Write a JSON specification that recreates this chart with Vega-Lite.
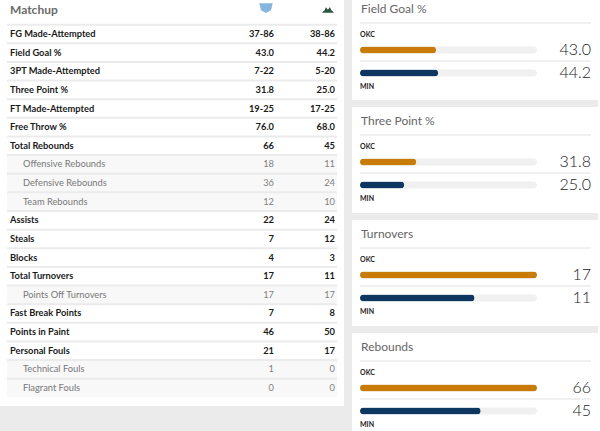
{
  "$schema": "https://vega.github.io/schema/vega-lite/v6.json",
  "background": "#ebebeb",
  "padding": 0,
  "spacing": 8,
  "datasets": {
    "table": [
      {"label": "FG Made-Attempted", "okc": "37-86", "min": "38-86", "level": "main"},
      {"label": "Field Goal %", "okc": "43.0", "min": "44.2", "level": "main"},
      {"label": "3PT Made-Attempted", "okc": "7-22", "min": "5-20", "level": "main"},
      {"label": "Three Point %", "okc": "31.8", "min": "25.0", "level": "main"},
      {"label": "FT Made-Attempted", "okc": "19-25", "min": "17-25", "level": "main"},
      {"label": "Free Throw %", "okc": "76.0", "min": "68.0", "level": "main"},
      {"label": "Total Rebounds", "okc": "66", "min": "45", "level": "main"},
      {"label": "Offensive Rebounds", "okc": "18", "min": "11", "level": "sub"},
      {"label": "Defensive Rebounds", "okc": "36", "min": "24", "level": "sub"},
      {"label": "Team Rebounds", "okc": "12", "min": "10", "level": "sub"},
      {"label": "Assists", "okc": "22", "min": "24", "level": "main"},
      {"label": "Steals", "okc": "7", "min": "12", "level": "main"},
      {"label": "Blocks", "okc": "4", "min": "3", "level": "main"},
      {"label": "Total Turnovers", "okc": "17", "min": "11", "level": "main"},
      {"label": "Points Off Turnovers", "okc": "17", "min": "17", "level": "sub"},
      {"label": "Fast Break Points", "okc": "7", "min": "8", "level": "main"},
      {"label": "Points in Paint", "okc": "46", "min": "50", "level": "main"},
      {"label": "Personal Fouls", "okc": "21", "min": "17", "level": "main"},
      {"label": "Technical Fouls", "okc": "1", "min": "0", "level": "sub"},
      {"label": "Flagrant Fouls", "okc": "0", "min": "0", "level": "sub"}
    ],
    "cards": [
      {"stat": "Field Goal %", "team": "OKC", "value": 43.0},
      {"stat": "Field Goal %", "team": "MIN", "value": 44.2},
      {"stat": "Three Point %", "team": "OKC", "value": 31.8},
      {"stat": "Three Point %", "team": "MIN", "value": 25.0},
      {"stat": "Turnovers", "team": "OKC", "value": 17},
      {"stat": "Turnovers", "team": "MIN", "value": 11},
      {"stat": "Rebounds", "team": "OKC", "value": 66},
      {"stat": "Rebounds", "team": "MIN", "value": 45}
    ],
    "logos": [
      {"team": "okc"},
      {"team": "min"}
    ]
  },
  "config": {
    "font": "Lato",
    "view": {"fill": "white", "stroke": null}
  },
  "hconcat": [
    {
      "width": 344,
      "height": 406,
      "view": {"fill": "white", "stroke": null},
      "layer": [
        {
          "data": {"name": "table"},
          "transform": [{"filter": "datum.level === 'sub'"}],
          "mark": {"type": "rect", "color": "#f8f8f8"},
          "encoding": {
            "y": {"field": "label", "type": "nominal", "sort": null, "axis": null, "scale": {"domain": ["FG Made-Attempted", "Field Goal %", "3PT Made-Attempted", "Three Point %", "FT Made-Attempted", "Free Throw %", "Total Rebounds", "Offensive Rebounds", "Defensive Rebounds", "Team Rebounds", "Assists", "Steals", "Blocks", "Total Turnovers", "Points Off Turnovers", "Fast Break Points", "Points in Paint", "Personal Fouls", "Technical Fouls", "Flagrant Fouls"], "range": [24.7, 397.3], "paddingInner": 0, "paddingOuter": 0}},
            "x": {"datum": 0, "type": "quantitative", "axis": null, "scale": {"domain": [0, 1], "range": [7, 337]}},
            "x2": {"datum": 1}
          }
        },
        {
          "data": {"name": "table"},
          "mark": {"type": "rule", "color": "#ebebeb", "strokeWidth": 2},
          "encoding": {
            "y": {"field": "label", "type": "nominal", "sort": null, "bandPosition": 0, "axis": null, "scale": {"domain": ["FG Made-Attempted", "Field Goal %", "3PT Made-Attempted", "Three Point %", "FT Made-Attempted", "Free Throw %", "Total Rebounds", "Offensive Rebounds", "Defensive Rebounds", "Team Rebounds", "Assists", "Steals", "Blocks", "Total Turnovers", "Points Off Turnovers", "Fast Break Points", "Points in Paint", "Personal Fouls", "Technical Fouls", "Flagrant Fouls"], "range": [24.7, 397.3], "paddingInner": 0, "paddingOuter": 0}},
            "x": {"datum": 0, "type": "quantitative", "axis": null, "scale": {"domain": [0, 1], "range": [7, 337]}},
            "x2": {"datum": 1}
          }
        },
        {
          "data": {"name": "table"},
          "transform": [{"filter": "datum.level === 'main'"}],
          "mark": {"type": "text", "align": "left", "baseline": "middle", "dx": 3, "fontSize": 9.3, "fontWeight": "bold", "color": "#1a1a1a"},
          "encoding": {
            "x": {"datum": 0, "type": "quantitative", "axis": null, "scale": {"domain": [0, 1], "range": [7, 337]}},
            "y": {"field": "label", "type": "nominal", "sort": null, "axis": null, "scale": {"domain": ["FG Made-Attempted", "Field Goal %", "3PT Made-Attempted", "Three Point %", "FT Made-Attempted", "Free Throw %", "Total Rebounds", "Offensive Rebounds", "Defensive Rebounds", "Team Rebounds", "Assists", "Steals", "Blocks", "Total Turnovers", "Points Off Turnovers", "Fast Break Points", "Points in Paint", "Personal Fouls", "Technical Fouls", "Flagrant Fouls"], "range": [24.7, 397.3], "paddingInner": 0, "paddingOuter": 0}},
            "text": {"field": "label"}
          }
        },
        {
          "data": {"name": "table"},
          "transform": [{"filter": "datum.level === 'sub'"}],
          "mark": {"type": "text", "align": "left", "baseline": "middle", "dx": 16, "fontSize": 9.3, "fontWeight": "normal", "color": "#777777"},
          "encoding": {
            "x": {"datum": 0, "type": "quantitative", "axis": null, "scale": {"domain": [0, 1], "range": [7, 337]}},
            "y": {"field": "label", "type": "nominal", "sort": null, "axis": null, "scale": {"domain": ["FG Made-Attempted", "Field Goal %", "3PT Made-Attempted", "Three Point %", "FT Made-Attempted", "Free Throw %", "Total Rebounds", "Offensive Rebounds", "Defensive Rebounds", "Team Rebounds", "Assists", "Steals", "Blocks", "Total Turnovers", "Points Off Turnovers", "Fast Break Points", "Points in Paint", "Personal Fouls", "Technical Fouls", "Flagrant Fouls"], "range": [24.7, 397.3], "paddingInner": 0, "paddingOuter": 0}},
            "text": {"field": "label"}
          }
        },
        {
          "data": {"name": "table"},
          "transform": [{"filter": "datum.level === 'main'"}, {"fold": ["okc", "min"], "as": ["col", "val"]}],
          "mark": {"type": "text", "align": "right", "baseline": "middle", "fontSize": 9.3, "fontWeight": "bold", "color": "#1a1a1a"},
          "encoding": {
            "x": {"field": "col", "type": "nominal", "axis": null, "scale": {"type": "point", "domain": ["okc", "min"], "range": [274, 335], "padding": 0}},
            "y": {"field": "label", "type": "nominal", "sort": null, "axis": null, "scale": {"domain": ["FG Made-Attempted", "Field Goal %", "3PT Made-Attempted", "Three Point %", "FT Made-Attempted", "Free Throw %", "Total Rebounds", "Offensive Rebounds", "Defensive Rebounds", "Team Rebounds", "Assists", "Steals", "Blocks", "Total Turnovers", "Points Off Turnovers", "Fast Break Points", "Points in Paint", "Personal Fouls", "Technical Fouls", "Flagrant Fouls"], "range": [24.7, 397.3], "paddingInner": 0, "paddingOuter": 0}},
            "text": {"field": "val"}
          }
        },
        {
          "data": {"name": "table"},
          "transform": [{"filter": "datum.level === 'sub'"}, {"fold": ["okc", "min"], "as": ["col", "val"]}],
          "mark": {"type": "text", "align": "right", "baseline": "middle", "fontSize": 9.3, "fontWeight": "normal", "color": "#808080"},
          "encoding": {
            "x": {"field": "col", "type": "nominal", "axis": null, "scale": {"type": "point", "domain": ["okc", "min"], "range": [274, 335], "padding": 0}},
            "y": {"field": "label", "type": "nominal", "sort": null, "axis": null, "scale": {"domain": ["FG Made-Attempted", "Field Goal %", "3PT Made-Attempted", "Three Point %", "FT Made-Attempted", "Free Throw %", "Total Rebounds", "Offensive Rebounds", "Defensive Rebounds", "Team Rebounds", "Assists", "Steals", "Blocks", "Total Turnovers", "Points Off Turnovers", "Fast Break Points", "Points in Paint", "Personal Fouls", "Technical Fouls", "Flagrant Fouls"], "range": [24.7, 397.3], "paddingInner": 0, "paddingOuter": 0}},
            "text": {"field": "val"}
          }
        },
        {
          "data": {"name": "logos"},
          "transform": [{"aggregate": [{"op": "count", "as": "n"}]}],
          "mark": {"type": "text", "align": "left", "baseline": "middle", "dx": 3, "fontSize": 12, "fontWeight": "bold", "color": "#6a6a6a"},
          "encoding": {
            "x": {"datum": 0, "type": "quantitative", "axis": null, "scale": {"domain": [0, 1], "range": [7, 337]}},
            "y": {"datum": "header", "type": "nominal", "axis": null, "scale": {"domain": ["header"], "range": [3, 17], "paddingInner": 0, "paddingOuter": 0}},
            "text": {"value": "Matchup"}
          }
        },
        {
          "data": {"name": "logos"},
          "transform": [{"filter": "datum.team === 'okc'"}],
          "mark": {"type": "point", "filled": true, "opacity": 1, "size": 180, "color": "#86b6e0", "shape": "M-1,-0.7L1,-0.7L0.75,0.35L0,0.75L-0.75,0.35Z"},
          "encoding": {
            "x": {"field": "team", "type": "nominal", "axis": null, "scale": {"type": "point", "domain": ["okc", "min"], "range": [266, 328], "padding": 0}},
            "y": {"datum": "header", "type": "nominal", "axis": null, "scale": {"domain": ["header"], "range": [3, 13], "paddingInner": 0, "paddingOuter": 0}}
          }
        },
        {
          "data": {"name": "logos"},
          "transform": [{"filter": "datum.team === 'min'"}],
          "mark": {"type": "point", "filled": true, "opacity": 1, "size": 150, "color": "#2c5540", "shape": "M-1,0.45L-0.55,0.05L-0.35,-0.45L0,-0.05L0.3,-0.5L0.55,0.05L1,0.45Z"},
          "encoding": {
            "x": {"field": "team", "type": "nominal", "axis": null, "scale": {"type": "point", "domain": ["okc", "min"], "range": [266, 328], "padding": 0}},
            "y": {"datum": "header", "type": "nominal", "axis": null, "scale": {"domain": ["header"], "range": [5, 15], "paddingInner": 0, "paddingOuter": 0}}
          }
        }
      ],
      "resolve": {"scale": {"x": "independent", "y": "independent"}}
    },
    {
      "spacing": 7,
      "vconcat": [
        {
          "width": 246,
          "height": 100,
          "view": {"fill": "white", "stroke": null},
          "data": {"name": "cards"},
          "transform": [{"filter": "datum.stat === 'Field Goal %'"}],
          "layer": [
            {
              "transform": [{"aggregate": [{"op": "count", "as": "n"}], "groupby": ["stat"]}],
              "mark": {"type": "text", "align": "left", "baseline": "middle", "dx": 1, "fontSize": 12, "color": "#666666"},
              "encoding": {
                "y": {"field": "stat", "type": "nominal", "axis": null, "scale": {"range": [3, 15], "paddingInner": 0, "paddingOuter": 0}},
                "x": {"datum": 0, "type": "quantitative", "axis": null, "scale": {"domain": [0, 1], "range": [8, 239]}},
                "text": {"field": "stat"}
              }
            },
            {
              "mark": {"type": "rule", "color": "#e2e2e2", "strokeWidth": 1},
              "encoding": {
                "y": {"field": "team", "type": "nominal", "bandPosition": 0, "axis": null, "scale": {"domain": ["OKC", "MIN"], "range": [23, 99], "paddingInner": 0, "paddingOuter": 0}},
                "x": {"datum": 0, "type": "quantitative", "axis": null, "scale": {"domain": [0, 1], "range": [8, 239]}},
                "x2": {"datum": 1}
              }
            },
            {
              "mark": {"type": "bar", "height": 7, "cornerRadius": 3.5, "color": "#f0f0f0"},
              "encoding": {
                "y": {"field": "team", "type": "nominal", "axis": null, "scale": {"domain": ["OKC", "MIN"], "range": [38.5, 84.5], "paddingInner": 0, "paddingOuter": 0}},
                "x": {"datum": 0, "type": "quantitative", "axis": null, "scale": {"domain": [0, 100], "range": [8, 185]}},
                "x2": {"datum": 100}
              }
            },
            {
              "mark": {"type": "bar", "height": 7, "cornerRadius": 3.5},
              "encoding": {
                "y": {"field": "team", "type": "nominal", "axis": null, "scale": {"domain": ["OKC", "MIN"], "range": [38.5, 84.5], "paddingInner": 0, "paddingOuter": 0}},
                "x": {"field": "value", "type": "quantitative", "axis": null, "scale": {"domain": [0, 100], "range": [8, 185]}},
                "color": {"field": "team", "type": "nominal", "legend": null, "scale": {"domain": ["OKC", "MIN"], "range": ["#c97b07", "#0d3660"]}}
              }
            },
            {
              "mark": {"type": "text", "align": "right", "baseline": "middle", "dx": -7, "fontSize": 16, "fontWeight": 300, "color": "#222222"},
              "encoding": {
                "y": {"field": "team", "type": "nominal", "axis": null, "scale": {"domain": ["OKC", "MIN"], "range": [38.5, 84.5], "paddingInner": 0, "paddingOuter": 0}},
                "x": {"value": "width"},
                "text": {"field": "value", "type": "quantitative", "format": ".1f"}
              }
            },
            {
              "mark": {"type": "text", "align": "left", "baseline": "middle", "fontSize": 7, "fontWeight": "bold", "color": "#222222"},
              "encoding": {
                "y": {"field": "team", "type": "nominal", "axis": null, "scale": {"domain": ["OKC", "MIN"], "range": [9, 113], "paddingInner": 0, "paddingOuter": 0}},
                "x": {"datum": 0, "type": "quantitative", "axis": null, "scale": {"domain": [0, 1], "range": [8, 239]}},
                "text": {"field": "team"}
              }
            }
          ],
          "resolve": {"scale": {"x": "independent", "y": "independent"}}
        },
        {
          "width": 246,
          "height": 106,
          "view": {"fill": "white", "stroke": null},
          "data": {"name": "cards"},
          "transform": [{"filter": "datum.stat === 'Three Point %'"}],
          "layer": [
            {
              "transform": [{"aggregate": [{"op": "count", "as": "n"}], "groupby": ["stat"]}],
              "mark": {"type": "text", "align": "left", "baseline": "middle", "dx": 1, "fontSize": 12, "color": "#666666"},
              "encoding": {
                "y": {"field": "stat", "type": "nominal", "axis": null, "scale": {"range": [8, 20], "paddingInner": 0, "paddingOuter": 0}},
                "x": {"datum": 0, "type": "quantitative", "axis": null, "scale": {"domain": [0, 1], "range": [8, 239]}},
                "text": {"field": "stat"}
              }
            },
            {
              "mark": {"type": "rule", "color": "#e2e2e2", "strokeWidth": 1},
              "encoding": {
                "y": {"field": "team", "type": "nominal", "bandPosition": 0, "axis": null, "scale": {"domain": ["OKC", "MIN"], "range": [28, 104], "paddingInner": 0, "paddingOuter": 0}},
                "x": {"datum": 0, "type": "quantitative", "axis": null, "scale": {"domain": [0, 1], "range": [8, 239]}},
                "x2": {"datum": 1}
              }
            },
            {
              "mark": {"type": "bar", "height": 7, "cornerRadius": 3.5, "color": "#f0f0f0"},
              "encoding": {
                "y": {"field": "team", "type": "nominal", "axis": null, "scale": {"domain": ["OKC", "MIN"], "range": [43.5, 89.5], "paddingInner": 0, "paddingOuter": 0}},
                "x": {"datum": 0, "type": "quantitative", "axis": null, "scale": {"domain": [0, 100], "range": [8, 185]}},
                "x2": {"datum": 100}
              }
            },
            {
              "mark": {"type": "bar", "height": 7, "cornerRadius": 3.5},
              "encoding": {
                "y": {"field": "team", "type": "nominal", "axis": null, "scale": {"domain": ["OKC", "MIN"], "range": [43.5, 89.5], "paddingInner": 0, "paddingOuter": 0}},
                "x": {"field": "value", "type": "quantitative", "axis": null, "scale": {"domain": [0, 100], "range": [8, 185]}},
                "color": {"field": "team", "type": "nominal", "legend": null, "scale": {"domain": ["OKC", "MIN"], "range": ["#c97b07", "#0d3660"]}}
              }
            },
            {
              "mark": {"type": "text", "align": "right", "baseline": "middle", "dx": -7, "fontSize": 16, "fontWeight": 300, "color": "#222222"},
              "encoding": {
                "y": {"field": "team", "type": "nominal", "axis": null, "scale": {"domain": ["OKC", "MIN"], "range": [43.5, 89.5], "paddingInner": 0, "paddingOuter": 0}},
                "x": {"value": "width"},
                "text": {"field": "value", "type": "quantitative", "format": ".1f"}
              }
            },
            {
              "mark": {"type": "text", "align": "left", "baseline": "middle", "fontSize": 7, "fontWeight": "bold", "color": "#222222"},
              "encoding": {
                "y": {"field": "team", "type": "nominal", "axis": null, "scale": {"domain": ["OKC", "MIN"], "range": [14, 118], "paddingInner": 0, "paddingOuter": 0}},
                "x": {"datum": 0, "type": "quantitative", "axis": null, "scale": {"domain": [0, 1], "range": [8, 239]}},
                "text": {"field": "team"}
              }
            }
          ],
          "resolve": {"scale": {"x": "independent", "y": "independent"}}
        },
        {
          "width": 246,
          "height": 106,
          "view": {"fill": "white", "stroke": null},
          "data": {"name": "cards"},
          "transform": [{"filter": "datum.stat === 'Turnovers'"}],
          "layer": [
            {
              "transform": [{"aggregate": [{"op": "count", "as": "n"}], "groupby": ["stat"]}],
              "mark": {"type": "text", "align": "left", "baseline": "middle", "dx": 1, "fontSize": 12, "color": "#666666"},
              "encoding": {
                "y": {"field": "stat", "type": "nominal", "axis": null, "scale": {"range": [8, 20], "paddingInner": 0, "paddingOuter": 0}},
                "x": {"datum": 0, "type": "quantitative", "axis": null, "scale": {"domain": [0, 1], "range": [8, 239]}},
                "text": {"field": "stat"}
              }
            },
            {
              "mark": {"type": "rule", "color": "#e2e2e2", "strokeWidth": 1},
              "encoding": {
                "y": {"field": "team", "type": "nominal", "bandPosition": 0, "axis": null, "scale": {"domain": ["OKC", "MIN"], "range": [28, 104], "paddingInner": 0, "paddingOuter": 0}},
                "x": {"datum": 0, "type": "quantitative", "axis": null, "scale": {"domain": [0, 1], "range": [8, 239]}},
                "x2": {"datum": 1}
              }
            },
            {
              "mark": {"type": "bar", "height": 7, "cornerRadius": 3.5, "color": "#f0f0f0"},
              "encoding": {
                "y": {"field": "team", "type": "nominal", "axis": null, "scale": {"domain": ["OKC", "MIN"], "range": [43.5, 89.5], "paddingInner": 0, "paddingOuter": 0}},
                "x": {"datum": 0, "type": "quantitative", "axis": null, "scale": {"domain": [0, 17], "range": [8, 185]}},
                "x2": {"datum": 17}
              }
            },
            {
              "mark": {"type": "bar", "height": 7, "cornerRadius": 3.5},
              "encoding": {
                "y": {"field": "team", "type": "nominal", "axis": null, "scale": {"domain": ["OKC", "MIN"], "range": [43.5, 89.5], "paddingInner": 0, "paddingOuter": 0}},
                "x": {"field": "value", "type": "quantitative", "axis": null, "scale": {"domain": [0, 17], "range": [8, 185]}},
                "color": {"field": "team", "type": "nominal", "legend": null, "scale": {"domain": ["OKC", "MIN"], "range": ["#c97b07", "#0d3660"]}}
              }
            },
            {
              "mark": {"type": "text", "align": "right", "baseline": "middle", "dx": -7, "fontSize": 16, "fontWeight": 300, "color": "#222222"},
              "encoding": {
                "y": {"field": "team", "type": "nominal", "axis": null, "scale": {"domain": ["OKC", "MIN"], "range": [43.5, 89.5], "paddingInner": 0, "paddingOuter": 0}},
                "x": {"value": "width"},
                "text": {"field": "value", "type": "quantitative", "format": "d"}
              }
            },
            {
              "mark": {"type": "text", "align": "left", "baseline": "middle", "fontSize": 7, "fontWeight": "bold", "color": "#222222"},
              "encoding": {
                "y": {"field": "team", "type": "nominal", "axis": null, "scale": {"domain": ["OKC", "MIN"], "range": [14, 118], "paddingInner": 0, "paddingOuter": 0}},
                "x": {"datum": 0, "type": "quantitative", "axis": null, "scale": {"domain": [0, 1], "range": [8, 239]}},
                "text": {"field": "team"}
              }
            }
          ],
          "resolve": {"scale": {"x": "independent", "y": "independent"}}
        },
        {
          "width": 246,
          "height": 106,
          "view": {"fill": "white", "stroke": null},
          "data": {"name": "cards"},
          "transform": [{"filter": "datum.stat === 'Rebounds'"}],
          "layer": [
            {
              "transform": [{"aggregate": [{"op": "count", "as": "n"}], "groupby": ["stat"]}],
              "mark": {"type": "text", "align": "left", "baseline": "middle", "dx": 1, "fontSize": 12, "color": "#666666"},
              "encoding": {
                "y": {"field": "stat", "type": "nominal", "axis": null, "scale": {"range": [8, 20], "paddingInner": 0, "paddingOuter": 0}},
                "x": {"datum": 0, "type": "quantitative", "axis": null, "scale": {"domain": [0, 1], "range": [8, 239]}},
                "text": {"field": "stat"}
              }
            },
            {
              "mark": {"type": "rule", "color": "#e2e2e2", "strokeWidth": 1},
              "encoding": {
                "y": {"field": "team", "type": "nominal", "bandPosition": 0, "axis": null, "scale": {"domain": ["OKC", "MIN"], "range": [28, 104], "paddingInner": 0, "paddingOuter": 0}},
                "x": {"datum": 0, "type": "quantitative", "axis": null, "scale": {"domain": [0, 1], "range": [8, 239]}},
                "x2": {"datum": 1}
              }
            },
            {
              "mark": {"type": "bar", "height": 7, "cornerRadius": 3.5, "color": "#f0f0f0"},
              "encoding": {
                "y": {"field": "team", "type": "nominal", "axis": null, "scale": {"domain": ["OKC", "MIN"], "range": [43.5, 89.5], "paddingInner": 0, "paddingOuter": 0}},
                "x": {"datum": 0, "type": "quantitative", "axis": null, "scale": {"domain": [0, 66], "range": [8, 185]}},
                "x2": {"datum": 66}
              }
            },
            {
              "mark": {"type": "bar", "height": 7, "cornerRadius": 3.5},
              "encoding": {
                "y": {"field": "team", "type": "nominal", "axis": null, "scale": {"domain": ["OKC", "MIN"], "range": [43.5, 89.5], "paddingInner": 0, "paddingOuter": 0}},
                "x": {"field": "value", "type": "quantitative", "axis": null, "scale": {"domain": [0, 66], "range": [8, 185]}},
                "color": {"field": "team", "type": "nominal", "legend": null, "scale": {"domain": ["OKC", "MIN"], "range": ["#c97b07", "#0d3660"]}}
              }
            },
            {
              "mark": {"type": "text", "align": "right", "baseline": "middle", "dx": -7, "fontSize": 16, "fontWeight": 300, "color": "#222222"},
              "encoding": {
                "y": {"field": "team", "type": "nominal", "axis": null, "scale": {"domain": ["OKC", "MIN"], "range": [43.5, 89.5], "paddingInner": 0, "paddingOuter": 0}},
                "x": {"value": "width"},
                "text": {"field": "value", "type": "quantitative", "format": "d"}
              }
            },
            {
              "mark": {"type": "text", "align": "left", "baseline": "middle", "fontSize": 7, "fontWeight": "bold", "color": "#222222"},
              "encoding": {
                "y": {"field": "team", "type": "nominal", "axis": null, "scale": {"domain": ["OKC", "MIN"], "range": [14, 118], "paddingInner": 0, "paddingOuter": 0}},
                "x": {"datum": 0, "type": "quantitative", "axis": null, "scale": {"domain": [0, 1], "range": [8, 239]}},
                "text": {"field": "team"}
              }
            }
          ],
          "resolve": {"scale": {"x": "independent", "y": "independent"}}
        }
      ]
    }
  ]
}
